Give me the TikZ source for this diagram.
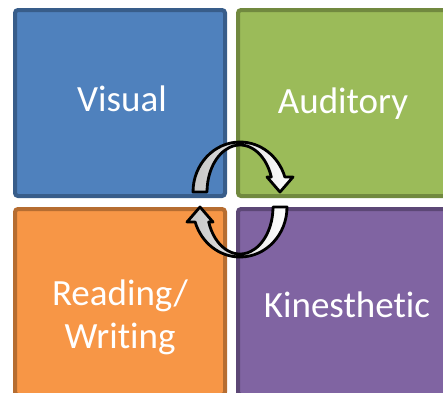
\documentclass[tikz,border=0pt]{standalone}
\usepackage{fontspec}
\setmainfont{Carlito}[Ligatures=NoCommon]
\usepackage{xcolor}
\usetikzlibrary{positioning}

\definecolor{vblue}{HTML}{4F81BD}
\definecolor{vblueline}{HTML}{385D8A}
\definecolor{agreen}{HTML}{9BBB59}
\definecolor{agreenline}{HTML}{71893F}
\definecolor{rorange}{HTML}{F79646}
\definecolor{rorangeline}{HTML}{B66D31}
\definecolor{kpurple}{HTML}{8064A2}
\definecolor{kpurpleline}{HTML}{5C4776}

\begin{document}
\begin{tikzpicture}[
    x=1pt, y=-1pt,
    tile/.style={rectangle, rounded corners=3pt, line width=4pt, minimum width=210pt, minimum height=186pt, inner sep=0pt},
    caption/.style={text=white, font=\fontsize{37}{43}\selectfont, align=center, inner sep=0pt},
    cycarrow/.style={draw=black, line width=2.8pt, line join=round, left color=gray!45, right color=white},
    node distance=9pt,
]
\useasboundingbox (0,0) rectangle (443,392);

% === FOUR TILES ===
\node[tile, fill=vblue, draw=vblueline] (visual) at (120,103) {};
\node[tile, fill=agreen, draw=agreenline, right=of visual] (auditory) {};
\node[tile, fill=rorange, draw=rorangeline, below=of visual] (reading) {};
\node[tile, fill=kpurple, draw=kpurpleline, below=of auditory] (kines) {};

% === LABELS ===
\node[caption, anchor=base] (visuallbl) at ([xshift=2pt, yshift=-8pt]visual.center) {Visual};
\node[caption, anchor=base] (auditorylbl) at ([yshift=-10pt]auditory.center) {Auditory};
\node[caption] (readinglbl) at ([yshift=-15pt]reading.center) {Reading/\\Writing};
\node[caption, anchor=base] (kineslbl) at ([xshift=4pt, yshift=-15pt]kines.center) {Kinesthetic};

% === CYCLE ARROWS ===
\begin{scope}[shift={(240,199.5)}]
  % upper arc, left to right
  \draw[cycarrow] (-47,-7.5) arc[start angle=180, end angle=342.5, x radius=47, y radius=50]
    -- (53,-22.5) -- (40,-7.5) -- (27,-22.5) -- (31.3,-22.5)
    arc[start angle=341.4, end angle=180, x radius=33, y radius=47] -- cycle;
  % lower arc, right to left
  \begin{scope}[rotate=180]
    \draw[cycarrow] (-47,-7.5) arc[start angle=180, end angle=342.5, x radius=47, y radius=50]
      -- (53,-22.5) -- (40,-7.5) -- (27,-22.5) -- (31.3,-22.5)
      arc[start angle=341.4, end angle=180, x radius=33, y radius=47] -- cycle;
  \end{scope}
\end{scope}

\end{tikzpicture}
\end{document}
